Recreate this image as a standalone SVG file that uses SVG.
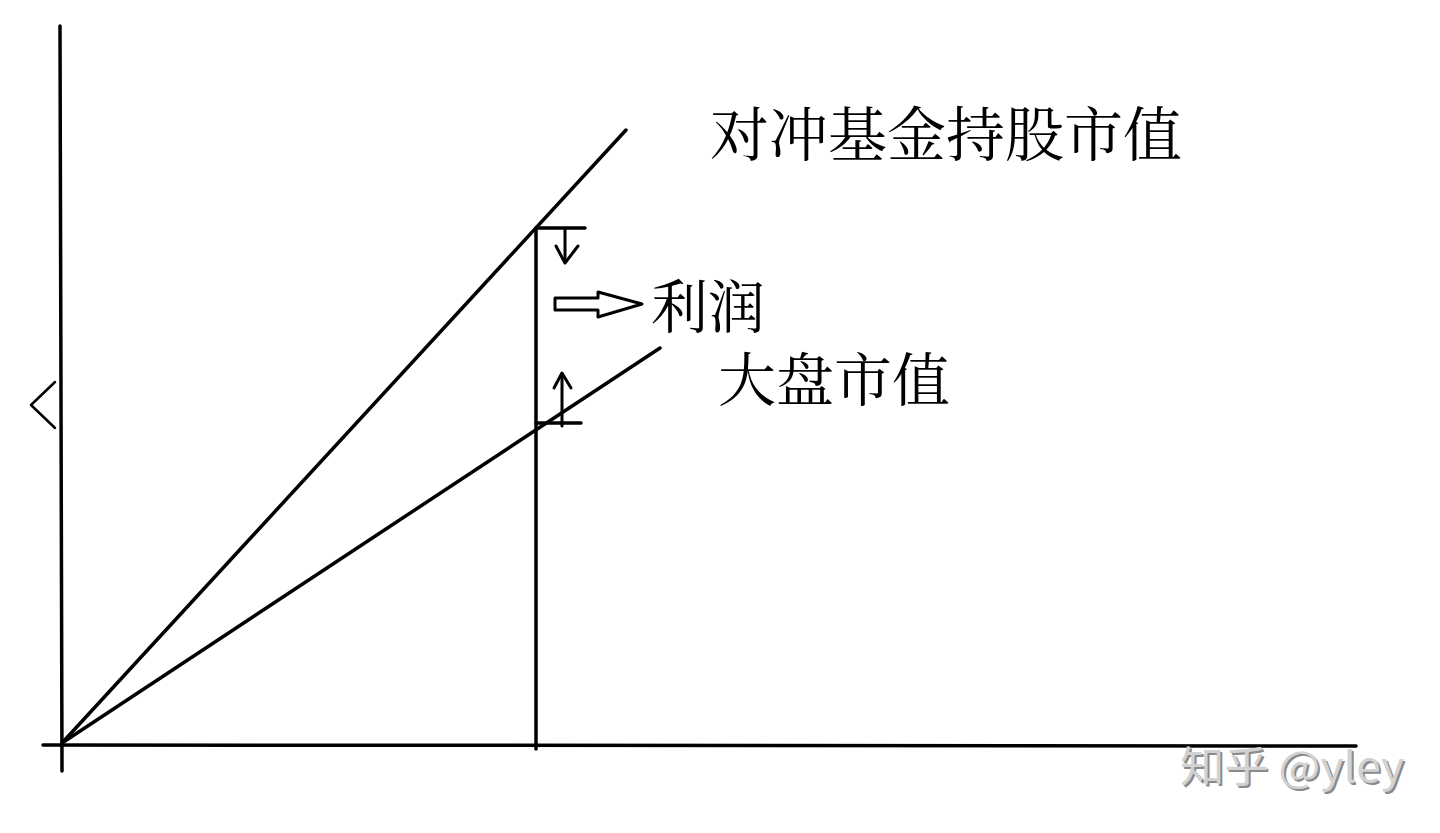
<svg xmlns="http://www.w3.org/2000/svg" width="1440" height="833" viewBox="0 0 1440 833">
<style>
.ln{stroke:#000;stroke-width:3.5;fill:none;stroke-linecap:round;stroke-linejoin:round}
.th{stroke:#000;stroke-width:3;fill:none;stroke-linecap:round;stroke-linejoin:round}
.lbl{font-family:"Noto Serif CJK SC","Noto Sans CJK SC",serif;fill:#000}
.wm{font-family:"Noto Sans CJK SC","Noto Sans",sans-serif;font-size:42px}
</style>
<rect width="1440" height="833" fill="#fff"/>
<g id="axes">
<line class="ln" x1="60" y1="26" x2="62" y2="771"/>
<line class="ln" x1="43" y1="745" x2="1356" y2="746"/>
<polyline class="th" style="stroke-width:2.5" points="55,382 31,405 55,428"/>
</g>
<g id="connectors">
<line class="ln" x1="62" y1="743" x2="626" y2="130"/>
<line class="ln" x1="62" y1="743" x2="660" y2="348"/>
<line class="ln" x1="536" y1="228" x2="536" y2="749"/>
<line class="ln" x1="536" y1="228" x2="585" y2="228"/>
<line class="ln" x1="536" y1="423" x2="581" y2="423"/>
<line class="th" x1="565" y1="229" x2="565" y2="262"/>
<polyline class="th" points="556,246 565,263 578,246"/>
<line class="th" x1="562" y1="426" x2="562" y2="374"/>
<polyline class="th" points="554,388 562,373 571,388"/>
<polygon class="th" style="fill:#fff" points="555,298 598,298 598,292 642,304 598,317 598,310 555,310"/>
</g>
<g id="node-hedge">
<text class="lbl" x="710" y="156" font-size="59" textLength="472" lengthAdjust="spacingAndGlyphs">对冲基金持股市值</text>
</g>
<g id="node-profit">
<text class="lbl" x="651" y="328" font-size="58" textLength="114" lengthAdjust="spacingAndGlyphs">利润</text>
</g>
<g id="node-market">
<text class="lbl" x="718" y="401" font-size="58" textLength="232" lengthAdjust="spacingAndGlyphs">大盘市值</text>
</g>
<g id="watermark">
<text class="wm" x="1182" y="784" fill="#8a8a8a" textLength="224" lengthAdjust="spacingAndGlyphs">知乎 @yley</text>
<text class="wm" x="1180" y="782" fill="#d2d2d2" textLength="224" lengthAdjust="spacingAndGlyphs">知乎 @yley</text>
</g>
</svg>
